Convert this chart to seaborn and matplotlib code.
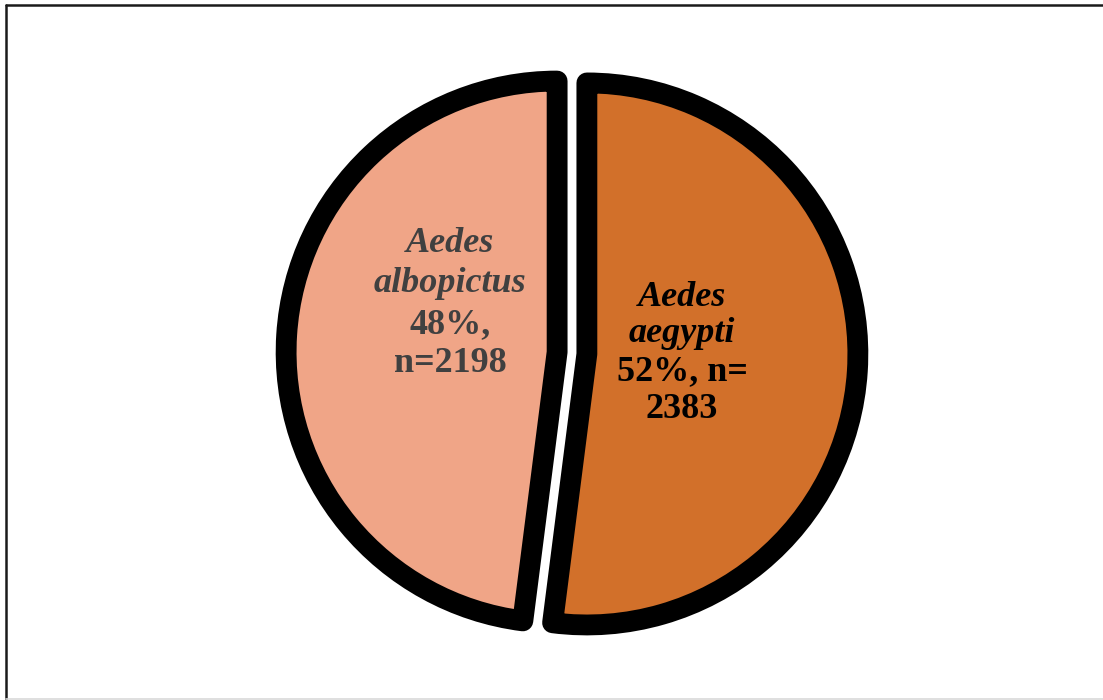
import matplotlib
matplotlib.use("Agg")
import matplotlib.pyplot as plt
from matplotlib.lines import Line2D
import seaborn as sns
import numpy as np

species = ["Aedes aegypti", "Aedes albopictus"]
genus = ["Aedes", "Aedes"]
epithet = ["aegypti", "albopictus"]
counts = [2383, 2198]
percent_labels = ["52%", "48%"]
colors = ["#D2702A", "#F0A587"]
text_colors = ["#000000", "#404040"]

sns.set_theme(style="white")
plt.rcParams["font.family"] = ["Liberation Serif", "DejaVu Serif"]

W, H, DPI = 1103, 700, 100
fig = plt.figure(figsize=(W / DPI, H / DPI), dpi=DPI)
ax = fig.add_axes([0, 0, 1, 1])

wedges, _ = ax.pie(
    counts,
    colors=colors,
    startangle=90,
    counterclock=False,
    explode=[0.055, 0.055],
    radius=1.0,
    wedgeprops=dict(edgecolor="black", linewidth=15, joinstyle="round"),
)

# pixel scaling: 1 data unit = R px, pie centre at (cx, cy) px from top-left
R, cx, cy = 271.0, 572.0, 353.0
ax.set_xlim((0 - cx) / R, (W - cx) / R)
ax.set_ylim((cy - H) / R, cy / R)
ax.set_aspect("equal")
ax.axis("off")

fs = 26
right_lines = [(genus[0], "italic"), (epithet[0], "italic"),
               (f"{percent_labels[0]}, n=", "normal"), (f"{counts[0]}", "normal")]
left_lines = [(genus[1], "italic"), (epithet[1], "italic"),
              (f"{percent_labels[1]},", "normal"), (f"n={counts[1]}", "normal")]

def place(lines, x_px, y_pxs, color):
    for (txt, style), ypx in zip(lines, y_pxs):
        ax.text((x_px - cx) / R, (cy - ypx) / R, txt, ha="center", va="center",
                fontsize=fs, fontweight="bold", fontstyle=style, color=color)

place(left_lines, 450, [244, 284, 325, 364], text_colors[1])
place(right_lines, 682, [297, 333, 372, 410], text_colors[0])

# outer frame (left/top dark, bottom light)
fig.add_artist(Line2D([5.5 / W, 5.5 / W], [0, 1 - 4.5 / H], transform=fig.transFigure,
                      color="#1a1a1a", lw=1.8))
fig.add_artist(Line2D([5.5 / W, 1], [1 - 4.5 / H, 1 - 4.5 / H], transform=fig.transFigure,
                      color="#1a1a1a", lw=1.8))
fig.add_artist(Line2D([5.5 / W, 1], [1.5 / H, 1.5 / H], transform=fig.transFigure,
                      color="#d9d9d9", lw=1.2))

fig.savefig("out.png", dpi=DPI, facecolor="white")
